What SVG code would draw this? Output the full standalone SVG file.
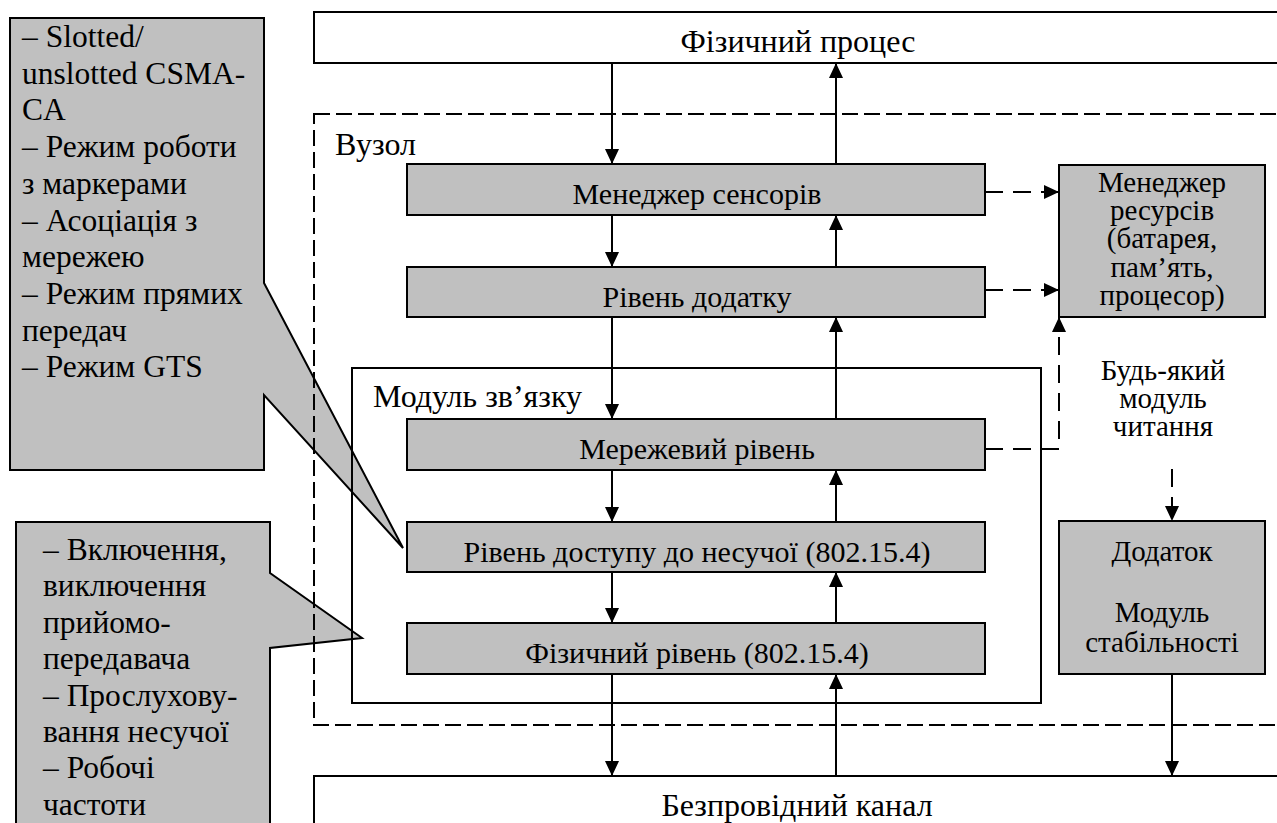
<svg xmlns="http://www.w3.org/2000/svg" width="1277" height="823" viewBox="0 0 1277 823">
  <defs>
    <style>
      .box { fill: #c0c0c0; stroke: #000; stroke-width: 2; }
      .frame { fill: #fff; stroke: #000; stroke-width: 2; }
      .open { fill: none; stroke: #000; stroke-width: 2; }
      .dashframe { fill: none; stroke: #000; stroke-width: 2; stroke-dasharray: 16 6; }
      .t { font-family: 'Liberation Serif', 'Times New Roman', serif; font-size: 30px; fill: #000; }
      .big { font-size: 32px; }
      .note { font-size: 31.5px; }
      .side { font-size: 29px; }
      .c { text-anchor: middle; }
      .link { fill: none; stroke: #000; stroke-width: 2; }
      .dash { stroke-dasharray: 18 10; }
    </style>
    <marker id="ah" markerUnits="userSpaceOnUse" markerWidth="16" markerHeight="16" refX="15" refY="7" orient="auto">
      <path d="M0,0 L15,7 L0,14 z" fill="#000"/>
    </marker>
  </defs>

  <rect width="1277" height="823" fill="#fff"/>

  <!-- callouts sit behind the layered stack -->
  <g id="callout-mac">
    <polygon class="box" points="10,18 264,18 264,283 403,548 264,395 264,470 10,470"/>
    <text class="t note" x="22" y="47">– Slotted/</text>
    <text class="t note" x="22" y="84">unslotted CSMA-</text>
    <text class="t note" x="22" y="120">CA</text>
    <text class="t note" x="22" y="157">– Режим роботи</text>
    <text class="t note" x="22" y="194">з маркерами</text>
    <text class="t note" x="22" y="231">– Асоціація з</text>
    <text class="t note" x="22" y="267">мережею</text>
    <text class="t note" x="22" y="304">– Режим прямих</text>
    <text class="t note" x="22" y="341">передач</text>
    <text class="t note" x="22" y="377">– Режим GTS</text>
  </g>

  <g id="callout-phy">
    <polygon class="box" points="16,522 270,522 270,573 362,638 270,648 270,900 16,900"/>
    <text class="t note" x="43" y="560">– Включення,</text>
    <text class="t note" x="43" y="596">виключення</text>
    <text class="t note" x="43" y="633">прийомо-</text>
    <text class="t note" x="43" y="669">передавача</text>
    <text class="t note" x="43" y="706">– Прослухову-</text>
    <text class="t note" x="43" y="742">вання несучої</text>
    <text class="t note" x="43" y="778">– Робочі</text>
    <text class="t note" x="43" y="815">частоти</text>
  </g>

  <!-- environment -->
  <g id="physical-process">
    <rect class="frame" x="314" y="12" width="1000" height="51"/>
    <text class="t big c" x="798" y="52">Фізичний процес</text>
  </g>

  <g id="node">
    <rect class="dashframe" x="314" y="114" width="1000" height="611"/>
    <text class="t big" x="335" y="155">Вузол</text>
  </g>

  <g id="wireless-channel">
    <rect class="frame" x="314" y="776" width="1000" height="100"/>
    <text class="t big c" x="797" y="816">Безпровідний канал</text>
  </g>

  <!-- layer stack -->
  <g id="sensor-manager">
    <rect class="box" x="407" y="164" width="578" height="51"/>
    <text class="t c" x="697" y="204">Менеджер сенсорів</text>
  </g>

  <g id="application-layer">
    <rect class="box" x="407" y="267" width="578" height="50"/>
    <text class="t c" x="697" y="307">Рівень додатку</text>
  </g>

  <g id="comm-module">
    <rect class="open" x="352" y="368" width="689" height="335"/>
    <text class="t big" x="373" y="407">Модуль зв’язку</text>
  </g>

  <g id="network-layer">
    <rect class="box" x="407" y="419" width="578" height="51"/>
    <text class="t c" x="697" y="459">Мережевий рівень</text>
  </g>

  <g id="mac-layer">
    <rect class="box" x="407" y="522" width="578" height="50"/>
    <text class="t c" x="697" y="562">Рівень доступу до несучої (802.15.4)</text>
  </g>

  <g id="phy-layer">
    <rect class="box" x="407" y="623" width="578" height="51"/>
    <text class="t c" x="697" y="663">Фізичний рівень (802.15.4)</text>
  </g>

  <!-- side blocks -->
  <g id="resource-manager">
    <rect class="box" x="1059" y="165" width="206" height="152"/>
    <text class="t side c" x="1162" y="192">Менеджер</text>
    <text class="t side c" x="1162" y="220">ресурсів</text>
    <text class="t side c" x="1162" y="248">(батарея,</text>
    <text class="t side c" x="1162" y="277">пам’ять,</text>
    <text class="t side c" x="1162" y="305">процесор)</text>
  </g>

  <g id="any-reader-label">
    <text class="t side c" x="1163" y="380">Будь-який</text>
    <text class="t side c" x="1163" y="408">модуль</text>
    <text class="t side c" x="1163" y="436">читання</text>
  </g>

  <g id="stability-app">
    <rect class="box" x="1059" y="521" width="206" height="153"/>
    <text class="t side c" x="1162" y="561">Додаток</text>
    <text class="t side c" x="1162" y="622">Модуль</text>
    <text class="t side c" x="1162" y="652">стабільності</text>
  </g>

  <!-- connectors -->
  <g id="connectors">
    <!-- downward data path -->
    <line class="link" x1="612" y1="63" x2="612" y2="164" marker-end="url(#ah)"/>
    <line class="link" x1="612" y1="215" x2="612" y2="267" marker-end="url(#ah)"/>
    <line class="link" x1="612" y1="317" x2="612" y2="419" marker-end="url(#ah)"/>
    <line class="link" x1="612" y1="470" x2="612" y2="522" marker-end="url(#ah)"/>
    <line class="link" x1="612" y1="572" x2="612" y2="623" marker-end="url(#ah)"/>
    <line class="link" x1="612" y1="674" x2="612" y2="776" marker-end="url(#ah)"/>
    <!-- upward data path -->
    <line class="link" x1="836" y1="776" x2="836" y2="674" marker-end="url(#ah)"/>
    <line class="link" x1="836" y1="623" x2="836" y2="572" marker-end="url(#ah)"/>
    <line class="link" x1="836" y1="522" x2="836" y2="470" marker-end="url(#ah)"/>
    <line class="link" x1="836" y1="419" x2="836" y2="317" marker-end="url(#ah)"/>
    <line class="link" x1="836" y1="267" x2="836" y2="215" marker-end="url(#ah)"/>
    <line class="link" x1="836" y1="164" x2="836" y2="63" marker-end="url(#ah)"/>
    <!-- resource reporting -->
    <line class="link dash" x1="985" y1="192" x2="1059" y2="192" marker-end="url(#ah)"/>
    <line class="link dash" x1="985" y1="290" x2="1059" y2="290" marker-end="url(#ah)"/>
    <path class="link dash" d="M985,449 H1059 V317" marker-end="url(#ah)"/>
    <!-- stability module -->
    <line class="link dash" x1="1172" y1="469" x2="1172" y2="521" marker-end="url(#ah)"/>
    <line class="link" x1="1172" y1="674" x2="1172" y2="776" marker-end="url(#ah)"/>
  </g>
</svg>
